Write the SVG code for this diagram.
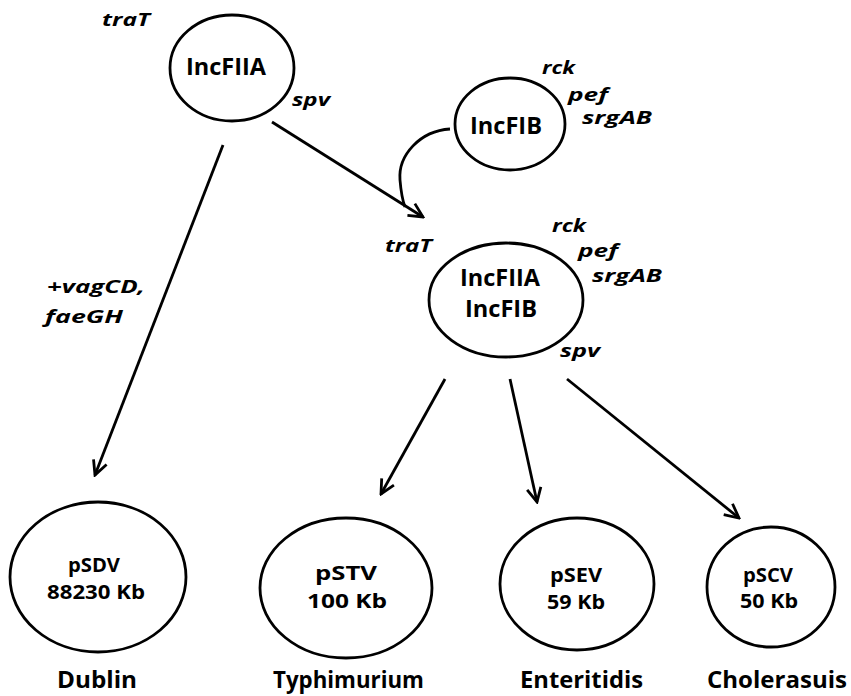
<svg xmlns="http://www.w3.org/2000/svg" width="851" height="696" viewBox="0 0 851 696">
<defs>
<style>
.node{fill:#fff;stroke:#000;stroke-width:2.8}
.t{font-family:"Open Sans","Liberation Sans",sans-serif;font-weight:bold;fill:#000}
.gene{font-family:"Open Sans","Liberation Sans",sans-serif;font-weight:bold;font-style:italic;font-size:18px;fill:#000}
.edge{fill:none;stroke:#000;stroke-width:2.8}
</style>
<marker id="arr" markerUnits="userSpaceOnUse" viewBox="0 0 18 18" refX="16" refY="9" markerWidth="18" markerHeight="18" orient="auto">
<path d="M2,2 L16,9 L2,16" fill="none" stroke="#000" stroke-width="2.8"/>
</marker>
</defs>
<rect width="851" height="696" fill="#fff"/>
<g id="connectors">
<path class="edge" d="M223,145 L95,475" marker-end="url(#arr)"/>
<path class="edge" d="M272,122 L423,217" marker-end="url(#arr)"/>
<path class="edge" d="M450,129 C420,131 398,155 400,180 C401,192 402,199 405,207"/>
<path class="edge" d="M445,379 L381,494" marker-end="url(#arr)"/>
<path class="edge" d="M510,379 L537,502" marker-end="url(#arr)"/>
<path class="edge" d="M567,379 L739,518" marker-end="url(#arr)"/>
<text class="gene" x="47" y="293" textLength="98" lengthAdjust="spacingAndGlyphs">+vagCD,</text>
<text class="gene" x="45" y="323" textLength="78" lengthAdjust="spacingAndGlyphs">faeGH</text>
</g>
<g id="IncFIIA">
<ellipse class="node" cx="232" cy="68" rx="62" ry="53"/>
<text class="t" x="186" y="75" font-size="24" textLength="80" lengthAdjust="spacingAndGlyphs">IncFIIA</text>
<text class="gene" x="102" y="26" textLength="48" lengthAdjust="spacingAndGlyphs">traT</text>
<text class="gene" x="292" y="106" textLength="38" lengthAdjust="spacingAndGlyphs">spv</text>
</g>
<g id="IncFIB">
<ellipse class="node" cx="510" cy="124" rx="55" ry="46"/>
<text class="t" x="470" y="134" font-size="23" textLength="72" lengthAdjust="spacingAndGlyphs">IncFIB</text>
<text class="gene" x="542" y="74" textLength="33" lengthAdjust="spacingAndGlyphs">rck</text>
<text class="gene" x="568" y="101" textLength="40" lengthAdjust="spacingAndGlyphs">pef</text>
<text class="gene" x="582" y="124" textLength="70" lengthAdjust="spacingAndGlyphs">srgAB</text>
</g>
<g id="IncFIIA_IncFIB">
<ellipse class="node" cx="506" cy="300" rx="77" ry="57"/>
<text class="t" x="460" y="286" font-size="23" textLength="80" lengthAdjust="spacingAndGlyphs">IncFIIA</text>
<text class="t" x="465" y="317" font-size="23" textLength="72" lengthAdjust="spacingAndGlyphs">IncFIB</text>
<text class="gene" x="385" y="252" textLength="47" lengthAdjust="spacingAndGlyphs">traT</text>
<text class="gene" x="552" y="232" textLength="34" lengthAdjust="spacingAndGlyphs">rck</text>
<text class="gene" x="578" y="257" textLength="40" lengthAdjust="spacingAndGlyphs">pef</text>
<text class="gene" x="592" y="282" textLength="70" lengthAdjust="spacingAndGlyphs">srgAB</text>
<text class="gene" x="560" y="357" textLength="40" lengthAdjust="spacingAndGlyphs">spv</text>
</g>
<g id="pSDV">
<ellipse class="node" cx="98" cy="577" rx="88" ry="75"/>
<text class="t" x="68" y="572" font-size="19" textLength="52" lengthAdjust="spacingAndGlyphs">pSDV</text>
<text class="t" x="47" y="599" font-size="19" textLength="98" lengthAdjust="spacingAndGlyphs">88230 Kb</text>
<text class="t" x="57" y="688" font-size="23" textLength="80" lengthAdjust="spacingAndGlyphs">Dublin</text>
</g>
<g id="pSTV">
<ellipse class="node" cx="346" cy="588" rx="86" ry="70"/>
<text class="t" x="315" y="580" font-size="20" textLength="62" lengthAdjust="spacingAndGlyphs">pSTV</text>
<text class="t" x="307" y="608" font-size="20" textLength="80" lengthAdjust="spacingAndGlyphs">100 Kb</text>
<text class="t" x="273" y="688" font-size="23" textLength="151" lengthAdjust="spacingAndGlyphs">Typhimurium</text>
</g>
<g id="pSEV">
<ellipse class="node" cx="577" cy="584" rx="77" ry="66"/>
<text class="t" x="550" y="582" font-size="19" textLength="52" lengthAdjust="spacingAndGlyphs">pSEV</text>
<text class="t" x="547" y="609" font-size="19" textLength="58" lengthAdjust="spacingAndGlyphs">59 Kb</text>
<text class="t" x="520" y="688" font-size="23" textLength="123" lengthAdjust="spacingAndGlyphs">Enteritidis</text>
</g>
<g id="pSCV">
<ellipse class="node" cx="771" cy="587" rx="64" ry="60"/>
<text class="t" x="743" y="582" font-size="19" textLength="50" lengthAdjust="spacingAndGlyphs">pSCV</text>
<text class="t" x="740" y="608" font-size="19" textLength="58" lengthAdjust="spacingAndGlyphs">50 Kb</text>
<text class="t" x="707" y="688" font-size="23" textLength="140" lengthAdjust="spacingAndGlyphs">Cholerasuis</text>
</g>
</svg>
